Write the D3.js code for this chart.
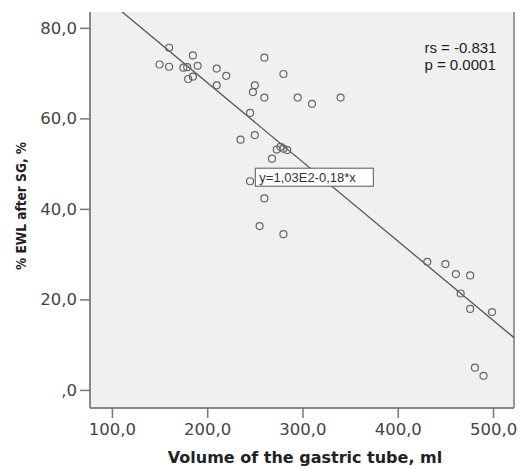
<!DOCTYPE html>
<html>
<head>
<meta charset="utf-8">
<script src="https://cdn.jsdelivr.net/npm/d3@7"></script>
<style>
  body { margin: 0; background: #fff; }
  svg { display: block; }
</style>
</head>
<body>
<div id="chart"></div>
<script>
// volume of the gastric tube (ml)
const volume = [160, 185, 150, 160, 175, 179, 190, 185, 180, 210, 220, 210, 250, 248, 245, 235, 250,
                260, 280, 260, 295, 310, 340, 273, 277, 280, 284, 268, 245, 260, 255, 280,
                431, 450, 461, 476, 466, 476, 499, 481, 490];
// % EWL after SG
const ewl = [75.6, 73.9, 71.9, 71.4, 71.2, 71.3, 71.6, 69.2, 68.7, 71.0, 69.4, 67.3, 67.3, 65.8, 61.2, 55.3, 56.3,
             73.4, 69.8, 64.6, 64.6, 63.2, 64.6, 53.1, 53.7, 53.3, 53.0, 51.1, 46.1, 42.3, 36.2, 34.4,
             28.3, 27.8, 25.6, 25.3, 21.3, 17.9, 17.2, 4.9, 3.1];
const xTicks = [100, 200, 300, 400, 500];
const yTicks = [0, 20, 40, 60, 80];
const fitCoef = [102.9, -0.175];   // intercept, slope of fit line
const fitLabel = "y=1,03E2-0,18*x";
const statsText = ["rs = -0.831", "p = 0.0001"];

const width = 520, height = 469;
const margin = {top: 12, right: 6, bottom: 61, left: 90};

let svg = d3.select('#chart').append('svg')
    .attr('width', width)
    .attr('height', height);

let x = d3.scaleLinear().domain([77, 522]).range([margin.left, width - margin.right]);
let y = d3.scaleLinear().domain([-4, 83.5]).range([height - margin.bottom, margin.top]);

const fmt = d => d === 0 ? ',0' : d3.format('.1f')(d).replace('.', ',');

// plot background
svg.append('rect')
    .attr('x', margin.left).attr('y', margin.top)
    .attr('width', width - margin.right - margin.left)
    .attr('height', height - margin.bottom - margin.top)
    .attr('fill', '#f0f0f0');

// right border
svg.append('line')
    .attr('x1', width - margin.right).attr('x2', width - margin.right)
    .attr('y1', margin.top).attr('y2', height - margin.bottom)
    .attr('stroke', '#999').attr('stroke-width', 2);

// clip for fit line
svg.append('clipPath').attr('id', 'clip')
    .append('rect')
    .attr('x', margin.left).attr('y', margin.top)
    .attr('width', width - margin.right - margin.left)
    .attr('height', height - margin.bottom - margin.top);

// axes
let xAxis = svg.append('g')
    .attr('transform', `translate(0,${height - margin.bottom})`)
    .call(d3.axisBottom(x).tickValues(xTicks).tickFormat(fmt).tickSize(10).tickPadding(5));
let yAxis = svg.append('g')
    .attr('transform', `translate(${margin.left},0)`)
    .call(d3.axisLeft(y).tickValues(yTicks).tickFormat(fmt).tickSize(10).tickPadding(3));

[xAxis, yAxis].forEach(a => {
    a.select('.domain').attr('stroke', '#888').attr('stroke-width', 2);
    a.selectAll('.tick line').attr('stroke', '#777').attr('stroke-width', 1.5);
    a.selectAll('.tick text')
        .attr('fill', '#444')
        .style('font-family', 'DejaVu Sans, sans-serif')
        .style('font-size', '16.5px');
});
yAxis.select('.domain').attr('d', `M0,${margin.top}V${height - margin.bottom}`);
xAxis.select('.domain').attr('d', `M${margin.left},0H${width - margin.right}`);

// fit line
let xs = x.domain();
svg.append('line')
    .attr('clip-path', 'url(#clip)')
    .attr('x1', x(xs[0])).attr('y1', y(fitCoef[0] + fitCoef[1] * xs[0]))
    .attr('x2', x(xs[1])).attr('y2', y(fitCoef[0] + fitCoef[1] * xs[1]))
    .attr('stroke', '#555').attr('stroke-width', 1.3);

// points
svg.append('g').selectAll('circle')
    .data(volume.map((v, i) => [v, ewl[i]]))
    .enter()
    .append('circle')
    .attr('cx', d => x(d[0]))
    .attr('cy', d => y(d[1]))
    .attr('r', 3.5)
    .attr('fill', 'none')
    .attr('stroke', '#666')
    .attr('stroke-width', 1.2);

// fit label box
let lbl = svg.append('g').attr('transform', `translate(${x(250.5)},${y(47)})`);
lbl.append('rect')
    .attr('x', 0).attr('y', -9)
    .attr('width', 118).attr('height', 18)
    .attr('fill', '#fff').attr('stroke', '#555').attr('stroke-width', 1);
lbl.append('text')
    .attr('x', 4).attr('y', 4.5)
    .style('font-family', 'Liberation Sans Narrow, Arial Narrow, sans-serif')
    .style('font-size', '13px')
    .attr('fill', '#333')
    .text(fitLabel);

// stats
svg.append('g').selectAll('text')
    .data(statsText)
    .enter()
    .append('text')
    .attr('x', x(428))
    .attr('y', (d, i) => y(74.5) + i * 17)
    .style('font-family', 'Liberation Sans Narrow, Arial Narrow, sans-serif')
    .style('font-size', '15px')
    .attr('fill', '#222')
    .text(d => d);

// axis titles
svg.append('text')
    .attr('x', 305).attr('y', 463)
    .attr('text-anchor', 'middle')
    .style('font-family', 'DejaVu Sans, sans-serif')
    .style('font-size', '16px').style('font-weight', 'bold')
    .attr('fill', '#222')
    .text('Volume of the gastric tube, ml');

svg.append('text')
    .attr('transform', 'translate(26,206) rotate(-90)')
    .attr('text-anchor', 'middle')
    .attr('textLength', 128)
    .attr('lengthAdjust', 'spacingAndGlyphs')
    .style('font-family', 'DejaVu Sans, sans-serif')
    .style('font-size', '14.5px').style('font-weight', 'bold')
    .attr('fill', '#222')
    .text('% EWL after SG, %');
</script>
</body>
</html>
